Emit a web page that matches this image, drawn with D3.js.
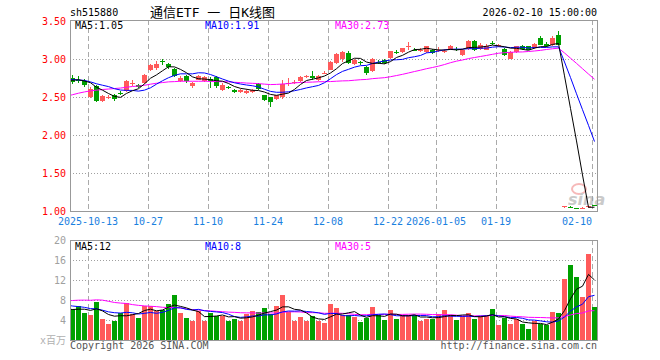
<!DOCTYPE html>
<html><head><meta charset="utf-8">
<script src="https://cdn.jsdelivr.net/npm/d3@7/dist/d3.min.js"></script>
<style>
body{margin:0;background:#fff}
svg{display:block}
text{font-family:"DejaVu Sans Mono","Noto Sans CJK SC",monospace;}
</style>
</head><body>
<svg id="c" width="660" height="360"></svg>
<script>
// ---- data ----
const dates = [
"2025-09-30","2025-10-09","2025-10-10","2025-10-13","2025-10-14","2025-10-15","2025-10-16","2025-10-17",
"2025-10-20","2025-10-21","2025-10-22","2025-10-23","2025-10-24","2025-10-27","2025-10-28","2025-10-29",
"2025-10-30","2025-10-31","2025-11-03","2025-11-04","2025-11-05","2025-11-06","2025-11-07","2025-11-10",
"2025-11-11","2025-11-12","2025-11-13","2025-11-14","2025-11-17","2025-11-18","2025-11-19","2025-11-20",
"2025-11-21","2025-11-24","2025-11-25","2025-11-26","2025-11-27","2025-11-28","2025-12-01","2025-12-02",
"2025-12-03","2025-12-04","2025-12-05","2025-12-08","2025-12-09","2025-12-10","2025-12-11","2025-12-12",
"2025-12-15","2025-12-16","2025-12-17","2025-12-18","2025-12-19","2025-12-22","2025-12-23","2025-12-24",
"2025-12-25","2025-12-26","2025-12-29","2025-12-30","2025-12-31","2026-01-05","2026-01-06","2026-01-07",
"2026-01-08","2026-01-09","2026-01-12","2026-01-13","2026-01-14","2026-01-15","2026-01-16","2026-01-19",
"2026-01-20","2026-01-21","2026-01-22","2026-01-23","2026-01-26","2026-01-27","2026-01-28","2026-01-29",
"2026-01-30","2026-02-02","2026-02-03","2026-02-04","2026-02-05","2026-02-06","2026-02-09","2026-02-10"];

const opens = [2.75,2.73,2.71,2.50,2.645,2.45,2.49,2.52,2.55,2.575,
2.68,2.66,2.68,2.855,2.885,2.97,2.93,2.87,2.71,2.77,
2.64,2.73,2.71,2.74,2.76,2.59,2.63,2.59,2.56,2.55,
2.57,2.67,2.525,2.495,2.47,2.505,2.665,2.69,2.71,2.77,
2.78,2.72,2.81,2.855,2.95,3.00,3.08,2.93,2.955,2.90,
2.84,2.965,2.99,3.01,3.095,3.09,3.16,3.125,3.105,3.095,
3.115,3.115,3.095,3.135,3.13,3.055,3.135,3.235,3.135,3.125,
3.21,3.165,3.135,3.005,3.095,3.165,3.165,3.145,3.28,3.20,
3.18,3.31,1.05,1.055,1.035,1.035,1.05,1.075];

const closes = [2.70,2.72,2.66,2.61,2.45,2.51,2.50,2.47,2.545,2.71,
2.69,2.63,2.79,2.915,2.93,2.96,2.895,2.78,2.75,2.71,
2.69,2.77,2.76,2.71,2.64,2.66,2.62,2.56,2.59,2.58,
2.59,2.605,2.46,2.435,2.52,2.665,2.68,2.70,2.76,2.78,
2.75,2.77,2.82,2.96,3.06,3.09,2.95,2.99,2.95,2.82,
3.00,2.96,2.95,3.10,3.09,3.14,3.17,3.12,3.115,3.165,
3.075,3.125,3.105,3.165,3.125,3.125,3.235,3.115,3.185,3.175,
3.205,3.185,3.055,3.095,3.165,3.135,3.125,3.195,3.19,3.17,
3.28,3.19,1.06,1.05,1.03,1.04,1.06,1.07];

const highs = [2.79,2.77,2.74,2.63,2.66,2.53,2.53,2.54,2.58,2.73,
2.72,2.67,2.80,2.93,2.97,3.00,2.95,2.88,2.77,2.79,
2.70,2.79,2.77,2.76,2.77,2.68,2.65,2.60,2.60,2.60,
2.60,2.69,2.53,2.50,2.53,2.72,2.75,2.73,2.77,2.79,
2.84,2.79,2.84,2.98,3.08,3.10,3.10,3.00,2.98,2.91,
3.01,2.99,3.00,3.11,3.12,3.15,3.22,3.15,3.145,3.175,
3.135,3.155,3.135,3.185,3.155,3.135,3.255,3.245,3.205,3.195,
3.235,3.195,3.145,3.105,3.175,3.185,3.175,3.205,3.30,3.22,
3.30,3.37,1.07,1.06,1.04,1.05,1.07,1.08];

const lows = [2.67,2.68,2.63,2.49,2.44,2.43,2.47,2.45,2.52,2.56,
2.65,2.62,2.67,2.84,2.86,2.92,2.87,2.76,2.70,2.69,
2.62,2.72,2.70,2.62,2.62,2.58,2.60,2.55,2.55,2.54,
2.55,2.59,2.45,2.375,2.46,2.47,2.64,2.67,2.70,2.75,
2.72,2.71,2.80,2.85,2.94,2.96,2.94,2.92,2.92,2.79,
2.83,2.94,2.94,3.00,3.07,3.08,3.12,3.10,3.095,3.085,
3.065,3.095,3.085,3.125,3.105,3.045,3.125,3.105,3.125,3.115,
3.185,3.155,3.035,2.995,3.085,3.125,3.115,3.135,3.18,3.16,
3.17,3.18,1.04,1.04,1.02,1.03,1.04,1.06];

// volume, millions
const volumes = [6.3,6.8,5.5,5.0,7.6,4.2,3.2,3.8,5.5,7.5,
5.3,4.4,6.8,6.8,5.9,6.1,7.2,9.0,5.4,4.4,
3.9,5.8,3.9,5.5,4.9,4.9,3.9,4.2,3.9,5.3,
5.8,5.6,6.4,5.3,6.8,9.0,5.7,3.9,4.6,3.9,
4.8,3.9,3.4,7.2,6.5,5.0,5.1,4.6,3.6,4.4,
6.6,5.0,4.0,6.0,4.2,5.0,5.0,5.0,3.8,4.2,
4.2,5.2,6.0,5.0,4.0,4.8,5.4,4.2,4.8,4.8,
6.2,3.0,4.4,3.2,4.2,3.2,2.2,3.8,3.2,3.0,
5.6,5.4,12.2,15.0,12.6,8.6,17.2,6.6];

// sessions before the visible window (moving-average warm-up)
const priorCloses = [2.10,2.12,2.15,2.20,2.18,2.25,2.30,2.28,2.35,2.40,
2.38,2.45,2.50,2.48,2.55,2.70,2.62,2.68,2.60,2.71,
2.70,2.78,2.72,2.80,2.70,2.70,2.68,2.75,2.72,2.75];
const priorVolumes = [5,5,5,6,5,6,10,11,9,10,
12,9,10,9,8,10,9,8,9,10,
8,8,7,7.5,8,7,6.5,5.5,6.2,6.0];

const priceTicks = [1.00,1.50,2.00,2.50,3.00,3.50];
const volTicks = [4,8,12,16,20];
const tickDates = ["2025-10-13","2025-10-27","2025-11-10","2025-11-24","2025-12-08","2025-12-22","2026-01-05","2026-01-19","2026-02-10"];
const tickLabels = ["2025-10-13","10-27","11-10","11-24","12-08","12-22","2026-01-05","01-19","02-10"];
const maPeriods = [5,10,30];
const maColors = ["#000000","#0000ff","#ff00ff"];

// ---- layout ----
const L = 70, R = 597, PT = 20, PB = 211, VT = 240, VB = 340;
const UP = "#ff5a5a", DOWN = "#00a000";
const svg = d3.select("#c");
const n = dates.length;

const x = d3.scaleLinear().domain([0, n]).range([L, L + 6*n]);
const cx = i => x(i) + 2.5;
const y = d3.scaleLinear().domain([1.0, 3.5]).range([PB, 21]);
const yv = d3.scaleLinear().domain([0, 20]).range([VB, VT]);

function movingAvg(prior, vals, p){
  const all = prior.concat(vals); const off = prior.length; const out = [];
  for(let i=-1;i<vals.length;i++){
    const k = i + off; if(k - p + 1 < 0) continue;
    out.push({i, v: d3.mean(all.slice(k-p+1, k+1))});
  }
  return out;
}

svg.append("defs").append("clipPath").attr("id","cp").append("rect")
  .attr("x",L).attr("y",PT).attr("width",R-L).attr("height",PB-PT);
svg.select("defs").append("clipPath").attr("id","cv").append("rect")
  .attr("x",L).attr("y",VT).attr("width",R-L).attr("height",VB-VT);

const grid = svg.append("g").attr("shape-rendering","crispEdges");
// horizontal dotted grid
priceTicks.filter(t => t > 1 && t < 3.5).forEach(t => {
  grid.append("line").attr("x1",L).attr("x2",R).attr("y1",Math.round(y(t))+0.5).attr("y2",Math.round(y(t))+0.5)
    .attr("stroke","#a0a0a0").attr("stroke-dasharray","1,2");
});
volTicks.filter(t => t < 20).forEach(t => {
  grid.append("line").attr("x1",L).attr("x2",R).attr("y1",Math.round(yv(t))+0.5).attr("y2",Math.round(yv(t))+0.5)
    .attr("stroke","#a0a0a0").attr("stroke-dasharray","1,2");
});
// vertical dashed lines
tickDates.forEach(d => {
  const xi = Math.round(x(dates.indexOf(d))) + 0.5;
  [[PT,PB],[VT,VB]].forEach(([a,b]) => grid.append("line").attr("x1",xi).attr("x2",xi).attr("y1",a).attr("y2",b)
    .attr("stroke","#aaaaaa").attr("stroke-dasharray","5,3"));
});

// sina watermark
const wm = svg.append("g").attr("opacity",0.55);
wm.append("ellipse").attr("cx",579).attr("cy",189).attr("rx",7).attr("ry",5).attr("fill","none").attr("stroke","#f08080").attr("stroke-width",2);
wm.append("text").attr("x",568).attr("y",205).attr("font-size",16).attr("font-weight","bold").attr("font-style","italic")
  .attr("fill","#a0a0a0").style("font-family","DejaVu Sans, sans-serif").text("sina");

// candles
const cg = svg.append("g").attr("shape-rendering","crispEdges").attr("clip-path","url(#cp)");
dates.forEach((d,i) => {
  const o = opens[i], c = closes[i], col = c >= o ? UP : DOWN;
  cg.append("line").attr("x1",Math.floor(cx(i))+0.5).attr("x2",Math.floor(cx(i))+0.5)
    .attr("y1",y(highs[i])).attr("y2",y(lows[i])).attr("stroke",col);
  const top = Math.round(y(Math.max(o,c))), bot = Math.round(y(Math.min(o,c)));
  cg.append("rect").attr("x",x(i)).attr("width",5).attr("y",top).attr("height",Math.max(1,bot-top)).attr("fill",col);
});
// volume bars
const vg = svg.append("g").attr("shape-rendering","crispEdges").attr("clip-path","url(#cv)");
dates.forEach((d,i) => {
  const col = closes[i] >= opens[i] ? UP : DOWN;
  vg.append("rect").attr("x",x(i)).attr("width",5).attr("y",Math.round(yv(volumes[i])))
    .attr("height",VB-Math.round(yv(volumes[i]))).attr("fill",col);
});

// moving averages
const line = (ys) => d3.line().x(d => cx(d.i)).y(d => ys(d.v));
const priceMA = maPeriods.map(p => movingAvg(priorCloses, closes, p));
const volMA = maPeriods.map(p => movingAvg(priorVolumes, volumes, p));
[2,1,0].forEach(k => {
  svg.append("path").attr("clip-path","url(#cp)").attr("d", line(y)(priceMA[k]))
    .attr("fill","none").attr("stroke",maColors[k]).attr("stroke-width",1);
  svg.append("path").attr("clip-path","url(#cv)").attr("d", line(yv)(volMA[k]))
    .attr("fill","none").attr("stroke",maColors[k]).attr("stroke-width",1);
});

// borders
const bg = svg.append("g").attr("shape-rendering","crispEdges");
[[PT,PB],[VT,VB]].forEach(([a,b]) => bg.append("rect").attr("x",L+0.5).attr("y",a+0.5)
  .attr("width",R-L).attr("height",b-a).attr("fill","none").attr("stroke","#999999"));

// axis labels
const fs = 10;
priceTicks.forEach(t => svg.append("text").attr("x",66).attr("y",y(t)).attr("dy","0.36em")
  .attr("text-anchor","end").attr("font-size",fs).attr("fill","#ff0000").text(t.toFixed(2)));
volTicks.forEach(t => svg.append("text").attr("x",66).attr("y",yv(t)).attr("dy","0.36em")
  .attr("text-anchor","end").attr("font-size",fs).attr("fill","#a0a0a0").text(t));
svg.append("text").attr("x",66).attr("y",344).attr("text-anchor","end").attr("font-size",10)
  .attr("fill","#b0b0b0").text("x百万");

tickDates.forEach((d,k) => {
  const xi = x(dates.indexOf(d));
  const anchorEnd = xi + 30 > R;
  svg.append("text").attr("x",xi).attr("y",225).attr("text-anchor",anchorEnd ? "end" : "middle")
    .attr("font-size",fs).attr("fill","#1a80e0").text(tickLabels[k]);
});

// header
svg.append("text").attr("x",70).attr("y",16).attr("font-size",fs).attr("fill","#000").text("sh515880");
svg.append("text").attr("x",150).attr("y",17).attr("font-size",13).attr("fill","#000").text("通信ETF 一 日K线图");
svg.append("text").attr("x",597).attr("y",16).attr("text-anchor","end").attr("font-size",fs).attr("fill","#000")
  .text(dates[n-1] + " 15:00:00");

// MA legends
const legX = [75,205,335];
maPeriods.forEach((p,k) => {
  const pv = priceMA[k][priceMA[k].length-1].v;
  const vv = volMA[k][volMA[k].length-1].v;
  svg.append("text").attr("x",legX[k]).attr("y",29).attr("font-size",fs).attr("fill",maColors[k])
    .text("MA" + p + ":" + pv.toFixed(2));
  svg.append("text").attr("x",legX[k]).attr("y",250).attr("font-size",fs).attr("fill",maColors[k])
    .text("MA" + p + ":" + Math.floor(vv));
});

// footer
svg.append("text").attr("x",70).attr("y",349).attr("font-size",fs).attr("fill","#555").text("Copyright 2026 SINA.COM");
svg.append("text").attr("x",597).attr("y",349).attr("text-anchor","end").attr("font-size",fs).attr("fill","#555").text("http://finance.sina.com.cn");
</script>
</body></html>
